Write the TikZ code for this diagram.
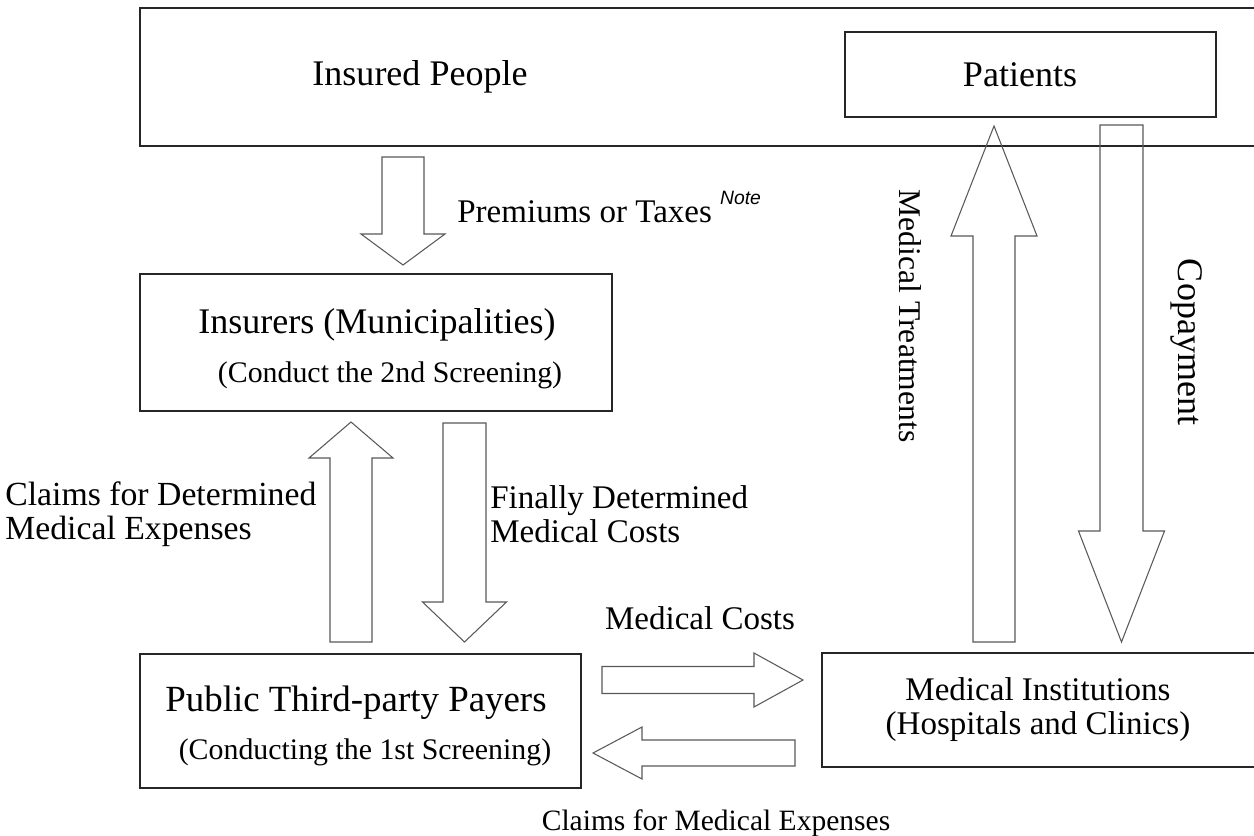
\documentclass[tikz,border=0pt]{standalone}
\usepackage{fontspec}
\setmainfont{Liberation Serif}
\newfontfamily\notefont{Liberation Sans}
\usepackage{tikz}

% block arrow: tail x, tail y, direction, length, shaft half width, head half width, head length
\newcommand{\blockarrow}[7]{%
\draw[blk, shift={(#1,#2)}, rotate=#3] (0,-#5) -- ({#4-#7},-#5) -- ({#4-#7},-#6) -- (#4,0)
  -- ({#4-#7},#6) -- ({#4-#7},#5) -- (0,#5) -- cycle;}

\begin{document}
\begin{tikzpicture}[x=0.02cm,y=-0.02cm]
\tikzstyle{box}=[draw=black!85, line width=0.9pt, rectangle, inner sep=0pt]
\tikzstyle{blk}=[draw=black!65, line width=0.6pt, line join=miter]
\tikzstyle{ttl}=[inner sep=0pt, font=\fontsize{20.5}{24}\selectfont]
\tikzstyle{sub}=[inner sep=0pt, font=\fontsize{17}{20}\selectfont]
\tikzstyle{lbl}=[inner sep=0pt, font=\fontsize{18.8}{19.4}\selectfont]
\clip (0,0) rectangle (1254,835);
\fill[white] (0,0) rectangle (1254,835);
% boxes
\node (insured) [box, minimum width=22.4cm, minimum height=2.76cm] at (700,77) {};
\node (patients) [box, minimum width=7.42cm, minimum height=1.7cm] at (1030.5,74.5) {};
\node (insurers) [box, minimum width=9.44cm, minimum height=2.74cm] at (376,342.5) {};
\node (payers) [box, minimum width=8.82cm, minimum height=2.68cm] at (360.5,721) {};
\node (inst) [box, minimum width=8.76cm, minimum height=2.28cm] at (1041,710) {};
% box texts
\node (tinsured) [ttl] at (420,77) {Insured People};
\node (tpatients) [ttl] at (1020,75) {Patients};
\node (tinsurers) [ttl] at (377,325) {Insurers (Municipalities)};
\node (sinsurers) [sub] at (390,375) {(Conduct the 2nd Screening)};
\node (tpayers) [ttl, font=\fontsize{21}{24}\selectfont] at (356,703) {Public Third-party Payers};
\node (spayers) [sub] at (365,752) {(Conducting the 1st Screening)};
\node (tinst) [lbl, align=center] at (1038,710) {Medical Institutions\\(Hospitals and Clinics)};
% flows
\blockarrow{403}{157}{-90}{108}{21}{42}{31}
\blockarrow{351}{642}{90}{220}{21}{42}{36}
\blockarrow{464.5}{423}{-90}{219}{21.5}{42}{40}
\blockarrow{602}{680}{0}{201}{13.5}{27}{49}
\blockarrow{795}{753}{180}{202}{13}{26}{49}
\blockarrow{994}{642}{90}{516}{21}{43}{110}
\blockarrow{1121.5}{125}{-90}{517}{21.5}{43}{111}
% flow labels
\node (premiums) [lbl, anchor=west] at (457,207) {Premiums or Taxes \raisebox{1.2ex}{\notefont\itshape\fontsize{11}{12}\selectfont Note}};
\node (claimsdet) [lbl, anchor=west, align=left, font=\fontsize{19.2}{19.4}\selectfont] at (5,514) {Claims for Determined\\Medical Expenses};
\node (finally) [lbl, anchor=west, align=left] at (490,514) {Finally Determined\\Medical Costs};
\node (costs) [lbl] at (700,618) {Medical Costs};
\node (claims) [inner sep=0pt, font=\fontsize{16.8}{18}\selectfont] at (716,823) {Claims for Medical Expenses};
\node (treat) [inner sep=0pt, font=\fontsize{18}{20}\selectfont, rotate=-90] at (910,316) {Medical Treatments};
\node (copay) [ttl, rotate=-90] at (1187,342) {Copayment};
\end{tikzpicture}
\end{document}
